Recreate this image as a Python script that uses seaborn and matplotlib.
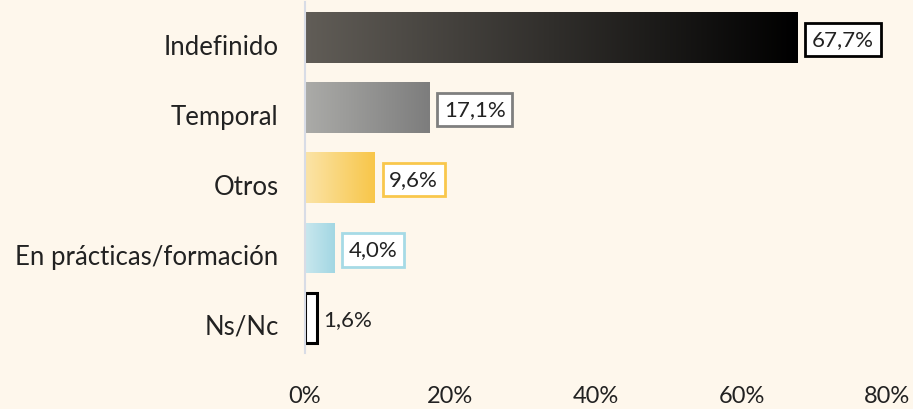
import matplotlib
matplotlib.use("Agg")
import matplotlib.pyplot as plt
import matplotlib.ticker as ticker
import matplotlib.transforms as mtransforms
from matplotlib.colors import LinearSegmentedColormap
import seaborn as sns
import numpy as np
import pandas as pd

# data
categories = ["Indefinido", "Temporal", "Otros", "En prácticas/formación", "Ns/Nc"]
values = [67.7, 17.1, 9.6, 4.0, 1.6]
labels = ["67,7%", "17,1%", "9,6%", "4,0%", "1,6%"]
xticks = [0, 20, 40, 60, 80]

# gradient start/end colours per bar (None = plain outlined bar)
grad_colors = [("#615d57", "#000000"), ("#ababa8", "#7d7d7d"),
               ("#fbe4a8", "#f8c649"), ("#c9e7ee", "#a2d7e3"), None]
box_colors = ["#000000", "#7f7f7f", "#f9c74c", "#a6dae6", None]

bg = "#fef7ec"
df = pd.DataFrame({"cat": categories, "val": values})

sns.set_style("white")
plt.rcParams["font.family"] = ["Lato", "DejaVu Sans"]

fig = plt.figure(figsize=(9.13, 4.09), dpi=100, facecolor=bg)
ax = fig.add_axes([0.334, 0.137, 0.6375, 0.857])
ax.set_facecolor(bg)

sns.barplot(data=df, x="val", y="cat", ax=ax, color=bg, width=0.72,
            edgecolor="none", saturation=1)

for i, (patch, gc) in enumerate(zip(ax.patches, grad_colors)):
    x0, y0 = patch.get_x(), patch.get_y()
    w, h = patch.get_width(), patch.get_height()
    if gc is None:
        patch.set_facecolor("white")
        patch.set_edgecolor("black")
        patch.set_linewidth(2.2)
        continue
    cmap = LinearSegmentedColormap.from_list("g%d" % i, list(gc))
    img = ax.imshow(np.linspace(0, 1, 256).reshape(1, -1), cmap=cmap,
                    aspect="auto", extent=[x0, x0 + w, y0 + h, y0],
                    zorder=2, interpolation="bilinear")
    img.set_clip_path(patch)

for i, (v, lab, bc) in enumerate(zip(values, labels, box_colors)):
    if bc is None:
        ax.text(v + 0.9, i + 0.03, lab, va="center", ha="left", fontsize=16,
                color="#222222", zorder=4)
    else:
        ax.text(v + 2.0, i + 0.03, lab, va="center", ha="left", fontsize=16,
                color="#222222", zorder=4,
                bbox=dict(boxstyle="square,pad=0.3", fc="white", ec=bc, lw=2))

ax.set_xlim(0, 80)
ax.set_ylim(4.5, -0.5)
ax.set_xticks(xticks)
ax.xaxis.set_major_formatter(ticker.FuncFormatter(lambda x, p: "%d%%" % x))
ax.set_xlabel("")
ax.set_ylabel("")
ax.tick_params(axis="x", labelsize=17, colors="#222222", length=0, pad=24)
ax.tick_params(axis="y", labelsize=18.5, colors="#222222", length=0, pad=19)
# category labels sit a little below the bar centres in the reference
shift = mtransforms.ScaledTranslation(0, -7 / 100, fig.dpi_scale_trans)
for t in ax.get_yticklabels():
    t.set_transform(t.get_transform() + shift)
for s in ["top", "right", "bottom"]:
    ax.spines[s].set_visible(False)
ax.spines["left"].set_color("#d8dce6")
ax.spines["left"].set_linewidth(1.5)

fig.savefig("out.png", dpi=100, facecolor=bg)
